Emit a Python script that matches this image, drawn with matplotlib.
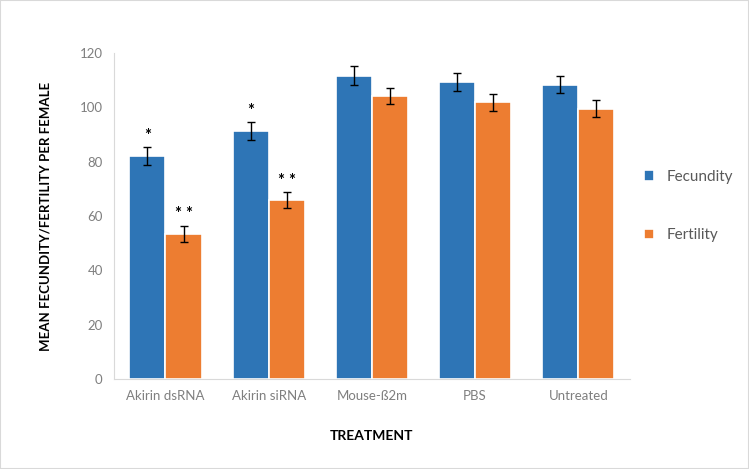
import matplotlib
matplotlib.use("Agg")
import matplotlib.pyplot as plt
import numpy as np

plt.rcParams['font.family'] = ['Lato', 'DejaVu Sans']

treatments = ["Akirin dsRNA", "Akirin siRNA", "Mouse-\u00df2m", "PBS", "Untreated"]
fecundity = [82.1, 91.3, 111.6, 109.3, 108.4]
fecundity_err = [3.2, 3.3, 3.5, 3.4, 3.3]
fertility = [53.4, 65.9, 104.2, 101.8, 99.5]
fertility_err = [3.0, 3.0, 3.0, 3.1, 3.1]
fec_marks = ["*", "*", "", "", ""]
fert_marks = ["* *", "* *", "", "", ""]

BLUE = "#2e75b6"
ORANGE = "#ed7d31"

fig = plt.figure(figsize=(7.49, 4.69), dpi=100)
ax = fig.add_axes([0.152, 0.192, 0.689, 0.695])

x = np.arange(len(treatments))
w = 0.35
ekw = dict(ecolor="black", elinewidth=1, capsize=3, capthick=1)
ax.bar(x - w / 2, fecundity, w, color=BLUE, edgecolor="white", linewidth=1.2,
       yerr=fecundity_err, error_kw=ekw, label="Fecundity")
ax.bar(x + w / 2, fertility, w, color=ORANGE, edgecolor="white", linewidth=1.2,
       yerr=fertility_err, error_kw=ekw, label="Fertility")

for i in range(len(treatments)):
    if fec_marks[i]:
        ax.text(x[i] - w / 2, fecundity[i] + fecundity_err[i] + 1.2, fec_marks[i],
                ha="center", va="bottom", fontsize=12, fontweight="bold")
    if fert_marks[i]:
        ax.text(x[i] + w / 2, fertility[i] + fertility_err[i] + 1.2, fert_marks[i],
                ha="center", va="bottom", fontsize=12, fontweight="bold")

ax.set_xlim(-0.5, len(treatments) - 0.5)
ax.set_ylim(0, 120)
ax.set_yticks(np.arange(0, 121, 20))
ax.set_xticks(x)
ax.set_xticklabels(treatments)
ax.tick_params(axis="both", length=0, labelsize=9.5, colors="#7f7f7f", pad=8)

for s in ["top", "right"]:
    ax.spines[s].set_visible(False)
ax.spines["left"].set_color("#d9d9d9")
ax.spines["bottom"].set_color("#d9d9d9")

ax.set_ylabel("MEAN FECUNDITY/FERTILITY PER FEMALE", fontsize=9.5, fontweight="bold", labelpad=20)
ax.set_xlabel("TREATMENT", fontsize=10, fontweight="bold", labelpad=20)

ax.legend(loc="center left", bbox_to_anchor=(1.0, 0.53), frameon=False, fontsize=11,
          handlelength=0.7, handleheight=0.7, labelspacing=2.9, labelcolor="#595959")

border = plt.Rectangle((0, 0), 1, 1, transform=fig.transFigure, fill=False,
                       edgecolor="#d9d9d9", linewidth=1.5)
fig.patches.append(border)

fig.savefig("out.png", dpi=100)
